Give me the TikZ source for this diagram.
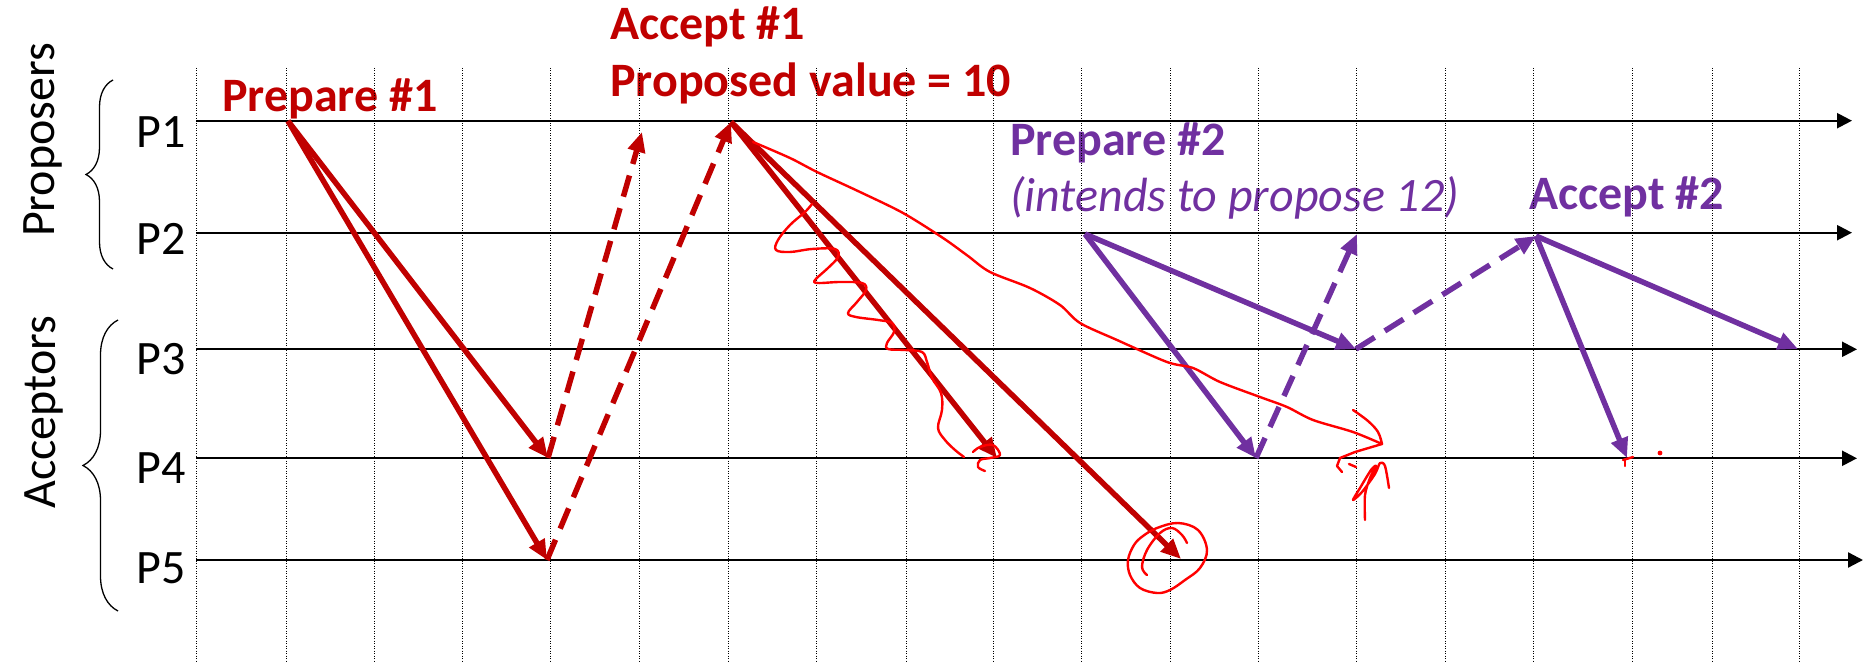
\documentclass[tikz,border=0pt]{standalone}
\usepackage{fontspec}
\setmainfont{Carlito}
\usepackage{xcolor}
\usepackage{tikz}
\usetikzlibrary{arrows.meta, positioning, calc, decorations.pathreplacing}

\definecolor{accred}{HTML}{C00000}
\definecolor{accpurple}{HTML}{7030A0}
\definecolor{inkred}{HTML}{FF0000}

\begin{document}
\begin{tikzpicture}[
  x=1pt, y=-1pt,
  font=\fontsize{48}{58}\selectfont,
  lane/.style   = {line width=2.3pt, -{Triangle[length=15pt, width=15pt]}},
  tick/.style   = {line width=0.9pt, dash pattern=on 0.9pt off 1.6pt},
  role/.style   = {rotate=90, anchor=base, inner sep=0pt},
  proc/.style   = {inner sep=0pt},
  note/.style   = {anchor=base west, inner sep=0pt},
  brc/.style    = {decorate, decoration={brace, amplitude=#1}, line width=1.3pt},
  msg/.style    = {line width=5.5pt, -{Triangle[length=20pt, width=17pt]}},
  reply/.style  = {msg, dash pattern=on 22pt off 12pt},
  ink/.style    = {inkred, line width=2.4pt, line cap=round, line join=round},
]
\useasboundingbox (0,0) rectangle (1872,663);

%% Roles
\node[role] (proposers) at (54,140) {Proposers};
\node[role] (acceptors) at (55,412) {Acceptors};
\draw[brc=27pt] (113,269) -- (113,80);
\draw[brc=35pt] (118,611) -- (118,320);

%% Phase labels
\node[note, accred] (prepone) at (222,112) {\bfseries Prepare \#1};
\node[note, accred] (accone)  at (610,40)  {\bfseries Accept \#1};
\node[note, accred] (valone)  at (610,97)  {\bfseries Proposed value = 10};
\node[note, accpurple] (preptwo) at (1010,156) {\bfseries Prepare \#2};
\node[note, accpurple] (intent)  at (1010,212) {\itshape (intends to propose 12)};
\node[note, accpurple] (acctwo)  at (1529,210) {\bfseries Accept \#2};

%% Time grid
\foreach \x in {196,286,374,462,550,639,728,816,906,993,1081,1170,1258,1356,1445,1533,1632,1712,1799}
  \draw[tick] (\x,68) -- (\x,663);

%% Processes
\foreach \n/\y/\xe/\dy in {1/120.7/1852/11, 2/232.7/1852/6, 3/349.3/1857/10,
                           4/458.3/1857/10, 5/560/1863/8} {
  \coordinate (l\n) at (196,\y);
  \coordinate (r\n) at (\xe,\y);
  \draw[lane] (l\n) -- (r\n);
  \node[proc] (p\n) at (161,\y+\dy) {P\n};
}

%% Round 1
\coordinate (prepA)  at (288,121);
\coordinate (prepA4) at (548,458);
\coordinate (prepA5) at (547,560);
\coordinate (promA4) at (642,132);
\coordinate (accA)   at (731,122);
\coordinate (accA4)  at (997,458);
\coordinate (accA5)  at (1181,559);

\draw[msg, accred]   (prepA)  -- (prepA4);
\draw[msg, accred]   (prepA)  -- (prepA5);
\draw[reply, accred] (prepA4) -- (promA4);
\draw[reply, accred] (prepA5) -- (accA);
\draw[msg, accred]   (accA)   -- (accA4);
\draw[msg, accred]   (accA)   -- (accA5);

%% Round 2
\coordinate (prepB)  at (1085,234);
\coordinate (prepB4) at (1256,458);
\coordinate (prepB3) at (1356,349);
\coordinate (promB)  at (1357,234);
\coordinate (accB)   at (1536,236);
\coordinate (accB4)  at (1627,458);
\coordinate (accB3)  at (1798,349);

\draw[msg, accpurple]   (prepB)  -- (prepB4);
\draw[msg, accpurple]   (prepB)  -- (prepB3);
\draw[reply, accpurple] (prepB4) -- (promB);
\draw[reply, accpurple] (prepB3) -- (accB);
\draw[msg, accpurple]   (accB)   -- (accB4);
\draw[msg, accpurple]   (accB)   -- (accB3);

%% Hand-drawn marks
\draw[ink] plot[smooth, tension=0.6] coordinates {
  (812,204) (805,212) (790,225) (778,240) (776,250) (790,252) (812,249) (835,249)
  (838,257) (828,268) (815,280) (818,283) (840,282) (862,283) (866,290) (857,302)
  (848,313) (856,317) (878,320) (892,323) (894,332) (887,343) (888,349) (905,350)
  (922,352) (927,362) (932,378) (941,393) (942,410) (938,428) (945,440) (955,450) (964,457)};
\draw[ink] plot[smooth, tension=0.6] coordinates {
  (973,452) (980,447) (993,445) (1000,455) (990,458) (980,460) (978,467) (985,471)};
\draw[ink] plot[smooth, tension=0.5] coordinates {
  (753,142) (790,158) (817,172) (860,192) (903,213) (943,238) (968,256) (990,272)
  (1030,288) (1060,305) (1080,323) (1117,340) (1167,362) (1193,368) (1220,382)
  (1260,397) (1287,407) (1313,420) (1353,432) (1382,444)};
\draw[ink] (1382,444) -- (1355,452) -- (1340,458) -- (1337,466) -- (1342,472);
\draw[ink] plot[smooth, tension=0.6] coordinates {(1353,410) (1368,421) (1378,432) (1382,444)};
\draw[ink] (1349,464) -- (1356,467);
\draw[ink] plot[smooth, tension=0.5] coordinates {
  (1365,520) (1365,495) (1370,478) (1376,466) (1371,470) (1360,488) (1353,500)
  (1362,492) (1375,474) (1380,463) (1385,466) (1389,488)};
\draw[ink] plot[smooth cycle, tension=0.6] coordinates {
  (1178,523) (1198,530) (1207,550) (1200,568) (1185,580) (1170,590) (1157,593)
  (1140,588) (1130,575) (1128,560) (1134,545) (1143,536) (1157,528)};
\draw[ink] plot[smooth, tension=0.6] coordinates {
  (1147,575) (1142,567) (1147,550) (1160,533) (1172,528) (1182,535) (1187,543)};
\draw[ink] (1623,460) -- (1633,457);
\draw[ink] (1625,460) -- (1625,466);
\fill[inkred] (1660,453) circle (2.4);

\end{tikzpicture}
\end{document}
